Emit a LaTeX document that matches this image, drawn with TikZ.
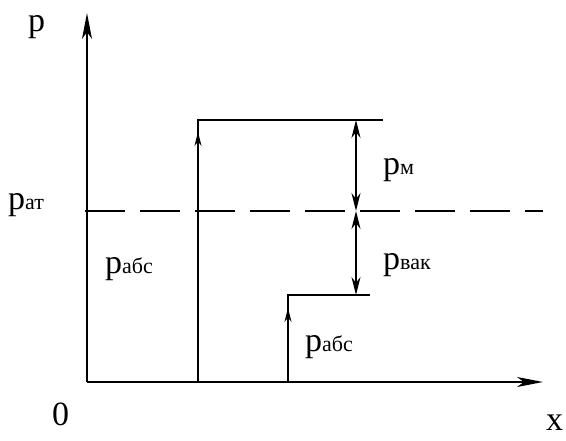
\documentclass[tikz,border=0pt]{standalone}
\usepackage{fontspec}
\setmainfont{Liberation Serif}
\usetikzlibrary{arrows.meta}
\newcommand{\subtxt}[1]{\raisebox{0pt}{\fontsize{22}{24}\selectfont #1}}
\begin{document}
\begin{tikzpicture}[x=1pt,y=-1pt,
  line/.style={line width=1.6pt},
  axis/.style={line width=1.6pt,-{Stealth[length=26pt,width=10pt,inset=7pt]}},
  up/.style={line width=1.6pt,-{Stealth[length=14pt,width=7pt]}},
  dbl/.style={line width=1.6pt,{Stealth[length=18pt,width=9pt]}-{Stealth[length=18pt,width=9pt]}},
  lbl/.style={inner sep=0pt,anchor=base west,font=\fontsize{34}{36}\selectfont}]
\useasboundingbox (0,0) rectangle (566,441);
\coordinate (O) at (87,382);
\coordinate (Ytop) at (87,13);
\coordinate (Xend) at (543,382);
\coordinate (Dl) at (85,211);
\coordinate (Dr) at (543,211);
\coordinate (A0) at (198,382);
\coordinate (A1) at (198,120);
\coordinate (A1r) at (383,120);
\coordinate (Ah) at (198,132);
\coordinate (B0) at (288,382);
\coordinate (B1) at (288,295);
\coordinate (B1r) at (370,295);
\coordinate (Bh) at (288,308);
\coordinate (M1) at (356,120);
\coordinate (M2) at (356,211);
\coordinate (M3) at (356,295);
\draw[axis] (O) -- (Ytop);
\draw[axis] (O) -- (Xend);
\draw[line width=1.2pt,dash pattern=on 40pt off 15pt] (Dl) -- (Dr);
\draw[line] (A0) -- (A1) -- (A1r);
\draw[up] (A0) -- (Ah);
\draw[line] (B0) -- (B1) -- (B1r);
\draw[up] (B0) -- (Bh);
\draw[dbl] (M1) -- (M2);
\draw[dbl] (M2) -- (M3);
\node[lbl] (lp) at (28,32) {p};
\node[lbl] (lpat) at (8,210) {p\subtxt{ат}};
\node[lbl] (lpabs1) at (105,274) {p\subtxt{абс}};
\node[lbl] (lpm) at (383,175) {p\subtxt{м}};
\node[lbl] (lpvak) at (383,270) {p\subtxt{вак}};
\node[lbl] (lpabs2) at (305,352) {p\subtxt{абс}};
\node[lbl] (l0) at (52,425) {0};
\node[lbl] (lx) at (546,431) {x};
\end{tikzpicture}
\end{document}
